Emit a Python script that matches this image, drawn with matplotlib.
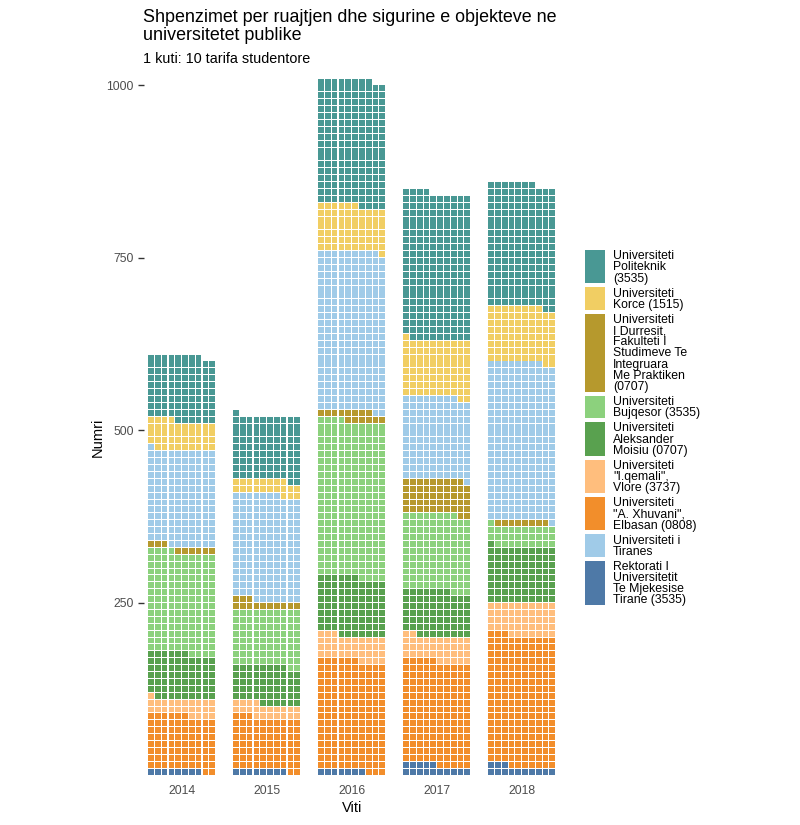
import matplotlib
matplotlib.use("Agg")
import matplotlib.pyplot as plt
from matplotlib.patches import Rectangle

plt.rcParams['font.family'] = ['Liberation Sans', 'DejaVu Sans']

# boxes per category (1 box = 10 fees), bottom to top of each column
years = ["2014", "2015", "2016", "2017", "2018"]
rektorati = [8, 8, 7, 15, 13]
xhuvani = [78, 75, 159, 150, 190]
qemali = [25, 21, 37, 37, 47]
moisiu = [65, 54, 83, 65, 81]
bujqesor = [148, 82, 228, 111, 30]
durres = [9, 13, 14, 51, 8]
tiranes = [138, 154, 231, 119, 229]
korce = [43, 21, 67, 83, 80]
politeknik = [94, 93, 182, 213, 179]

stack = [rektorati, xhuvani, qemali, moisiu, bujqesor, durres, tiranes, korce, politeknik]
stack_colors = ["#4E79A7", "#F28E2B", "#FFBE7D", "#59A14F", "#8CD17D",
                "#B6992D", "#A0CBE8", "#F1CE63", "#499894"]

# legend entries (top to bottom), already wrapped like the original
legend_labels = [
    ["Universiteti", "Politeknik", "(3535)"],
    ["Universiteti", "Korce (1515)"],
    ["Universiteti", "I Durresit,", "Fakulteti I", "Studimeve Te", "Integruara", "Me Praktiken", "(0707)"],
    ["Universiteti", "Bujqesor (3535)"],
    ["Universiteti", "Aleksander", "Moisiu (0707)"],
    ["Universiteti", "\"I.qemali\",", "Vlore (3737)"],
    ["Universiteti", "\"A. Xhuvani\",", "Elbasan (0808)"],
    ["Universiteti i", "Tiranes"],
    ["Rektorati I", "Universitetit", "Te Mjekesise", "Tirane (3535)"],
]
legend_colors = ["#499894", "#F1CE63", "#B6992D", "#8CD17D", "#59A14F",
                 "#FFBE7D", "#F28E2B", "#A0CBE8", "#4E79A7"]

W, H = 800, 825
fig = plt.figure(figsize=(8, 8.25), dpi=100)
ax = fig.add_axes([143.5 / W, (H - 777.1) / H, (569.3 - 143.5) / W, (777.1 - 50.5) / H])

# waffle: fill each column row by row, 10 boxes per row
xs, ys, cs = [], [], []
for i in range(len(years)):
    k = 0
    for vals, col in zip(stack, stack_colors):
        for _ in range(vals[i]):
            xs.append(i * 12.5 - 4.5 + k % 10)
            ys.append((k // 10) * 10 + 0.7)
            cs.append(col)
            k += 1
ax.bar(xs, 8.6, bottom=ys, width=0.84, color=cs, linewidth=0, align="center")

ax.set_xlim(-5.6, 57)
ax.set_ylim(-3, 1050)
ax.set_xticks([i * 12.5 for i in range(len(years))])
ax.set_xticklabels(years)
ax.set_yticks([250, 500, 750, 1000])
ax.tick_params(axis="x", length=0, pad=6, labelsize=8.8, labelcolor="#4D4D4D")
ax.tick_params(axis="y", length=4, width=1, color="#333333", pad=3, labelsize=8.8, labelcolor="#4D4D4D")
for s in ax.spines.values():
    s.set_visible(False)

fig.text(352 / W, 1 - 808 / H, "Viti", ha="center", va="center", fontsize=10.5)
fig.text(98 / W, 1 - 437 / H, "Numri", ha="center", va="center", rotation=90, fontsize=10.5)

fig.text(143 / W, 1 - 21.5 / H, "Shpenzimet per ruajtjen dhe sigurine e objekteve ne",
         ha="left", va="baseline", fontsize=12.85)
fig.text(143 / W, 1 - 40.5 / H, "universitetet publike", ha="left", va="baseline", fontsize=12.85)
fig.text(143 / W, 1 - 63 / H, "1 kuti: 10 tarifa studentore", ha="left", va="baseline", fontsize=10.4)

# legend drawn by hand so every key spans its wrapped label
top = 250.0
line_h = 11.15
gap = 4.0
for lines, col in zip(legend_labels, legend_colors):
    h = len(lines) * line_h
    fig.patches.append(Rectangle((585 / W, 1 - (top + h) / H), 20 / W, h / H,
                                 transform=fig.transFigure, facecolor=col, edgecolor="none"))
    for j, t in enumerate(lines):
        fig.text(613 / W, 1 - (top + 9.3 + j * line_h) / H, t, ha="left", va="baseline", fontsize=8.8)
    top += h + gap

fig.savefig("out.png", dpi=100, facecolor="white")
